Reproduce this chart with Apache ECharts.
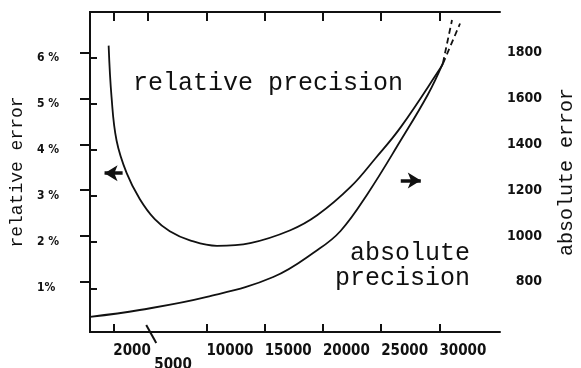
<!DOCTYPE html>
<html>
<head>
<meta charset="utf-8">
<script src="https://cdn.jsdelivr.net/npm/echarts@6/dist/echarts.min.js"></script>
<style>html,body{margin:0;padding:0;background:#fff;}#c{width:581px;height:368px;}</style>
</head>
<body>
<div id="c"></div>
<script>
// ---- data ----
const xTickVals = [2000, 10000, 15000, 20000, 25000, 30000];
const xLabelVals = [2000, 5000, 10000, 15000, 20000, 25000, 30000];
const topTickVals = [2000, 5000, 10000, 15000, 20000, 25000, 30000];
const relTickVals = [1, 2, 3, 4, 5, 6];
const absTickVals = [800, 1000, 1200, 1400, 1600, 1800];

// relative precision (left axis, %)
const relX = [1600, 1850, 2280, 3150, 4270, 5560, 6850, 8580, 10900, 13750, 17200, 19530, 22370, 24530, 26680, 30130, 30300];
const relY = [6.27, 5.15, 4.21, 3.50, 2.94, 2.50, 2.24, 2.04, 1.92, 1.98, 2.26, 2.59, 3.20, 3.83, 4.50, 5.80, 5.88];
const relDashX = [30300, 31770];
const relDashY = [5.88, 6.75];

// absolute precision (right axis)
const absX = [0, 4270, 10040, 15730, 19530, 21510, 23840, 26680, 29010, 30300];
const absY = [647, 677, 734, 821, 939, 1022, 1185, 1418, 1618, 1755];
const absDashX = [30300, 31080];
const absDashY = [1755, 1943];

// arrows pointing to the axis each curve belongs to
const leftArrowX = [2800, 1250];
const leftArrowY = 3.5;
const rightArrowX = [26680, 28400];
const rightArrowY = 1242;

const pairs = (xs, ys) => xs.map((x, i) => [x, ys[i]]);

const numFont = 'Liberation Sans Narrow, DejaVu Sans Condensed, sans-serif';
const monoFont = 'Courier New, Liberation Mono, monospace';
const ink = '#111';

const chart = echarts.init(document.getElementById('c'), null, {renderer: 'canvas'});
const textGraphics = [
  {type: 'text', left: 133, top: 71, style: {text: 'relative precision', font: '25px ' + monoFont, fill: ink}},
  {type: 'text', right: 111, top: 241, style: {text: 'absolute', font: '25px ' + monoFont, fill: ink}},
  {type: 'text', right: 111, top: 266, style: {text: 'precision', font: '25px ' + monoFont, fill: ink}}
];
const option = {
  backgroundColor: '#fff',
  animation: false,
  grid: {left: 90, right: 81, top: 12, bottom: 36, containLabel: false, outerBoundsMode: 'none'},
  xAxis: [
    {
      type: 'value', position: 'bottom', min: 0, max: 35200,
      axisLine: {lineStyle: {color: ink, width: 2}},
      axisTick: {inside: true, length: 8, lineStyle: {color: ink, width: 2}, customValues: xTickVals},
      axisLabel: {
        customValues: xLabelVals, align: 'left', margin: 12,
        color: ink, fontFamily: numFont, fontWeight: 'bold', fontSize: 15,
        formatter: v => v === 5000 ? '{low|5000}' : String(v),
        rich: {low: {padding: [14, 0, 0, 6], color: ink, fontFamily: numFont, fontWeight: 'bold', fontSize: 15}}
      },
      splitLine: {show: false}
    },
    {
      type: 'value', position: 'top', min: 0, max: 35200,
      axisLine: {lineStyle: {color: ink, width: 2}},
      axisTick: {inside: true, length: 9, lineStyle: {color: ink, width: 2}, customValues: topTickVals},
      axisLabel: {show: false},
      splitLine: {show: false}
    }
  ],
  yAxis: [
    {
      type: 'value', position: 'left', min: 0.05, max: 7.0,
      name: 'relative error', nameLocation: 'middle', nameRotate: 90, nameGap: 63,
      nameTextStyle: {color: ink, fontFamily: monoFont, fontSize: 18},
      axisLine: {lineStyle: {color: ink, width: 2}},
      axisTick: {inside: true, length: 7, lineStyle: {color: ink, width: 2}, customValues: relTickVals},
      axisLabel: {
        customValues: relTickVals, align: 'left', margin: 53,
        color: ink, fontFamily: numFont, fontWeight: 'bold', fontSize: 12,
        formatter: v => v === 1 ? '1%' : v + ' %'
      },
      splitLine: {show: false}
    },
    {
      type: 'value', position: 'right', min: 581, max: 1978,
      name: 'absolute error', nameLocation: 'middle', nameRotate: 90, nameGap: 57,
      nameTextStyle: {color: ink, fontFamily: monoFont, fontSize: 20},
      axisLine: {lineStyle: {color: ink, width: 2}},
      axisTick: {inside: true, length: 10, lineStyle: {color: ink, width: 2}, customValues: absTickVals},
      axisLabel: {
        customValues: absTickVals, align: 'right', margin: 42,
        color: ink, fontFamily: numFont, fontWeight: 'bold', fontSize: 14,
        formatter: v => String(v)
      },
      splitLine: {show: false}
    }
  ],
  series: [
    {
      name: 'relative precision', type: 'line', xAxisIndex: 0, yAxisIndex: 0,
      data: pairs(relX, relY), smooth: 0.4, symbol: 'none',
      lineStyle: {color: ink, width: 1.8},
      markLine: {
        silent: true, symbol: ['none', 'arrow'], symbolSize: [12, 13],
        label: {show: false},
        lineStyle: {color: ink, width: 3.5, type: 'solid'},
        data: [[{coord: [leftArrowX[0], leftArrowY]}, {coord: [leftArrowX[1], leftArrowY]}]]
      }
    },
    {
      name: 'absolute precision', type: 'line', xAxisIndex: 0, yAxisIndex: 1,
      data: pairs(absX, absY), smooth: 0.4, symbol: 'none',
      lineStyle: {color: ink, width: 1.8},
      markLine: {
        silent: true, symbol: ['none', 'arrow'], symbolSize: [12, 13],
        label: {show: false},
        lineStyle: {color: ink, width: 3.5, type: 'solid'},
        data: [[{coord: [rightArrowX[0], rightArrowY]}, {coord: [rightArrowX[1], rightArrowY]}]]
      }
    },
    {
      type: 'line', xAxisIndex: 0, yAxisIndex: 0,
      data: pairs(relDashX, relDashY), symbol: 'none',
      lineStyle: {color: ink, width: 1.8, type: [6, 4]}
    },
    {
      type: 'line', xAxisIndex: 0, yAxisIndex: 1,
      data: pairs(absDashX, absDashY), symbol: 'none',
      lineStyle: {color: ink, width: 1.8, type: [6, 4]}
    }
  ],
  graphic: textGraphics
};
chart.setOption(option);

// slanted tick marking 5000 on the bottom axis
const p5 = chart.convertToPixel({xAxisIndex: 0}, 5000);
const axisY = chart.convertToPixel({yAxisIndex: 0}, 0.05);
chart.setOption({
  graphic: textGraphics.concat([
    {type: 'line', shape: {x1: p5 - 2, y1: axisY - 7, x2: p5 + 8, y2: axisY + 11}, style: {stroke: ink, lineWidth: 2}}
  ])
});
</script>
</body>
</html>
